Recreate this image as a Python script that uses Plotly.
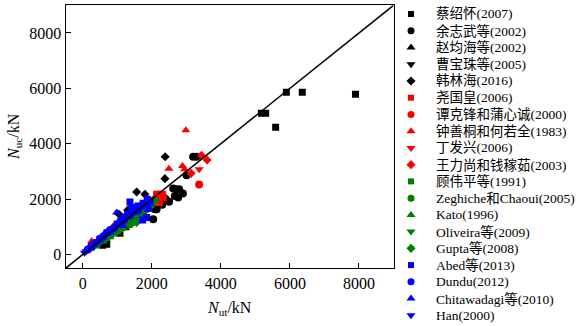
import plotly.graph_objects as go

# ---- data (N_ut, N_uc in kN) ----
names = ["蔡绍怀(2007)", "余志武等(2002)", "赵均海等(2002)", "曹宝珠等(2005)", "韩林海(2016)",
         "尧国皇(2006)", "谭克锋和蒲心诚(2000)", "钟善桐和何若全(1983)", "丁发兴(2006)", "王力尚和钱稼茹(2003)",
         "顾伟平等(1991)", "Zeghiche和Chaoui(2005)", "Kato(1996)", "Oliveira等(2009)", "Gupta等(2008)",
         "Abed等(2013)", "Dundu(2012)", "Chitawadagi等(2010)", "Han(2000)"]
colors = ["black"] * 5 + ["red"] * 5 + ["green"] * 5 + ["blue"] * 4
symbols = ["square", "circle", "triangle-up", "triangle-down", "diamond"] * 3 + \
          ["square", "circle", "triangle-up", "triangle-down"]

x_s1 = [5896, 6358, 7899, 5173, 5298, 5587, 1078, 694, 578, 1058, 1250]
y_s1 = [5860, 5860, 5787, 5103, 5103, 4598, 770, 371, 335, 793, 1000]
x_s2 = [3197, 3294, 2717, 2792, 2619, 2668, 3006, 2139, 2763, 2090, 2040, 2500, 2400, 2900, 2300]
y_s2 = [3531, 3531, 2353, 2353, 2378, 2112, 2858, 1632, 2054, 1632, 1272, 1900, 2000, 2200, 1800]
x_s3 = [1200, 1450, 1650, 900]
y_s3 = [1250, 1500, 1700, 950]
x_s4 = [1600, 1900, 1300]
y_s4 = [1350, 1650, 1150]
x_s5 = [2387, 2379, 1561, 1050, 1800, 1300]
y_s5 = [3531, 2739, 2256, 1452, 2173, 1600]
x_s6 = [2139, 2312, 2214, 2330, 2234, 1900, 400, 800]
y_s6 = [2173, 2173, 2173, 2054, 1874, 1800, 420, 820]
x_s7 = [3370, 1751, 2234, 1200]
y_s7 = [2523, 1452, 2112, 1150]
x_s8 = [2986, 2494, 2890, 2948, 260, 645, 900, 350]
y_s8 = [4490, 3099, 3193, 3074, 490, 731, 1050, 420]
x_s9 = [3370, 1500]
y_s9 = [3074, 1400]
x_s10 = [3439, 3602, 3139, 2100, 1650]
y_s10 = [3578, 3410, 2930, 2050, 1600]
x_s11 = [400, 600, 800, 1000, 1150, 700, 900]
y_s11 = [340, 520, 680, 850, 980, 600, 780]
x_s12 = [1512, 1367, 1600, 1700, 1416, 1318, 1250, 1100, 1994]
y_s12 = [1333, 1092, 1380, 1500, 1153, 1272, 1050, 950, 1812]
x_s13 = [500, 700, 950, 1200]
y_s13 = [480, 650, 880, 1120]
x_s14 = [1000, 1300, 1800, 1950]
y_s14 = [850, 1100, 1520, 1700]
x_s15 = [300, 450, 600, 750, 900, 1050, 1400, 1561, 1700, 2000, 2100]
y_s15 = [270, 400, 560, 700, 780, 920, 1250, 1153, 1600, 1800, 1950]
x_s16 = [1367, 1867, 1896, 1734, 1850, 1945, 1416, 1100, 800, 500, 250,
         1600, 1300, 1000, 700, 1200, 1500, 1750]
y_s16 = [1895, 1993, 1657, 1247, 1333, 1874, 1694, 1200, 850, 550, 280,
         1750, 1450, 1100, 780, 1350, 1550, 1850]
x_s17 = [1705, 1500, 1200, 900, 600, 350, 150, 1900, 1600, 1945,
         1100, 1350, 800, 500, 250, 1800]
y_s17 = [1751, 1550, 1250, 950, 650, 400, 180, 1900, 1600, 1931,
         1150, 1400, 880, 560, 300, 1800]
x_s18 = [983, 1173, 700, 400, 1300, 1550, 600, 850, 1100, 1450, 200]
y_s18 = [1513, 1031, 820, 450, 1400, 1700, 700, 950, 1250, 1600, 260]
x_s19 = [100, 200, 300, 450, 600, 800, 1000, 1250, 1450, 50,
         150, 350, 550, 700, 900, 1100, 1350, 1600, 1750]
y_s19 = [120, 230, 330, 480, 640, 840, 1050, 1300, 1500, 60,
         160, 380, 600, 760, 960, 1180, 1420, 1650, 1800]

xs = [x_s1, x_s2, x_s3, x_s4, x_s5, x_s6, x_s7, x_s8, x_s9, x_s10,
      x_s11, x_s12, x_s13, x_s14, x_s15, x_s16, x_s17, x_s18, x_s19]
ys = [y_s1, y_s2, y_s3, y_s4, y_s5, y_s6, y_s7, y_s8, y_s9, y_s10,
      y_s11, y_s12, y_s13, y_s14, y_s15, y_s16, y_s17, y_s18, y_s19]

line_x = [-500, 9000]
line_y = [-500, 9000]
tick_vals = [0, 2000, 4000, 6000, 8000]

FONT = "Liberation Serif, Times New Roman, Noto Sans CJK SC, serif"
plot_size = {"square": 7, "circle": 8, "triangle-up": 8, "triangle-down": 8, "diamond": 7}
leg_size = {"square": 6, "circle": 7, "triangle-up": 8, "triangle-down": 8, "diamond": 7}

fig = go.Figure()
for i in range(len(names)):
    fig.add_trace(go.Scatter(x=xs[i], y=ys[i], mode="markers", showlegend=False,
                             marker=dict(symbol=symbols[i], color=colors[i], size=plot_size[symbols[i]],
                                         line=dict(width=0))))
fig.add_trace(go.Scatter(x=line_x, y=line_y, mode="lines", showlegend=False,
                         line=dict(color="black", width=1.5)))

# legend built in a side panel axis
leg_idx = list(range(len(names)))
for i in leg_idx:
    fig.add_trace(go.Scatter(x=[0.0625], y=[i], mode="markers", showlegend=False,
                             xaxis="x2", yaxis="y2",
                             marker=dict(symbol=symbols[i], color=colors[i], size=leg_size[symbols[i]],
                                         line=dict(width=0))))

annotations = []
for i in leg_idx:
    annotations.append(dict(x=0.193, y=i, xref="x2", yref="y2", text=names[i], showarrow=False,
                            xanchor="left", yanchor="middle", font=dict(family=FONT, size=13.5, color="black")))
annotations.append(dict(x=229 / 576, y=(326 - 308) / 326, xref="paper", yref="paper",
                        text="<i>N</i><sub>ut</sub>/kN", showarrow=False, xanchor="center", yanchor="middle",
                        font=dict(family=FONT, size=16, color="black")))
annotations.append(dict(x=14 / 576, y=(326 - 137) / 326, xref="paper", yref="paper",
                        text="<i>N</i><sub>uc</sub>/kN", showarrow=False, textangle=-90,
                        xanchor="center", yanchor="middle",
                        font=dict(family=FONT, size=16, color="black")))

axis_common = dict(showgrid=False, zeroline=False, showline=True, linecolor="black", linewidth=1,
                   mirror=True, ticks="inside", ticklen=5, tickcolor="black",
                   tickfont=dict(family=FONT, size=16, color="black"),
                   tickvals=tick_vals)

fig.update_layout(
    width=576, height=326,
    margin=dict(l=0, r=0, t=0, b=0),
    paper_bgcolor="white", plot_bgcolor="white",
    xaxis=dict(range=[-500, 9000], domain=[65.5 / 576, 393.5 / 576], anchor="y", **axis_common),
    yaxis=dict(range=[-500, 9000], domain=[(326 - 268.3) / 326, (326 - 5.3) / 326], anchor="x", **axis_common),
    xaxis2=dict(range=[0, 1], domain=[400 / 576, 1], visible=False, anchor="y2"),
    yaxis2=dict(range=[18.638, -0.836], domain=[0, 1], visible=False, anchor="x2"),
    annotations=annotations,
    showlegend=False,
)

fig.write_html("out.html")
